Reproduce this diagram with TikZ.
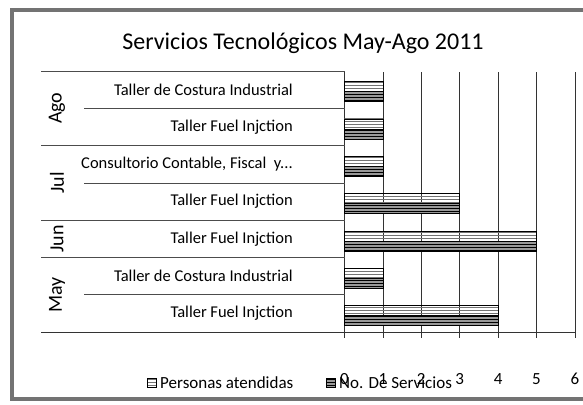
\documentclass[tikz,border=0pt]{standalone}
\usepackage{fontspec}
\setmainfont{Carlito}
\usetikzlibrary{patterns}

\tikzset{
  frameline/.style={black!55, line width=3.5pt},
  gridline/.style={black!80, line width=0.7pt},
  tabline/.style={black!70, line width=0.7pt},
  persbar/.style={draw=black, line width=0.6pt, pattern=horizontal lines, pattern color=black!55},
  servbar/.style={draw=black, line width=0.6pt, fill=black!40,
    postaction={pattern=horizontal lines, pattern color=black}},
  rowlabel/.style={anchor=east, inner sep=0pt, font=\fontsize{16.5}{18}\selectfont},
  grouplabel/.style={rotate=90, inner sep=0pt, font=\fontsize{20}{22}\selectfont},
  ticklabel/.style={inner sep=0pt, font=\fontsize{17}{19}\selectfont},
}

\begin{document}
\begin{tikzpicture}[x=1pt, y=-1pt]
\clip (0,0) rectangle (583,404);
\draw[frameline] (12,10) rectangle (620,399);

\node[font=\fontsize{24}{27}\selectfont] (title) at (303,43) {Servicios Tecnológicos May-Ago 2011};

% grid and axes
\coordinate (origin) at (344.5,332);
\foreach \v in {1,...,6}
  \draw[gridline] (344.5+38.4*\v,72) -- (344.5+38.4*\v,332);
\draw[gridline] (344.5,71) -- (344.5,337);
\draw[gridline] (41,332) -- (575.5,332);
\foreach \v in {0,...,6}
  \draw[gridline] (344.5+38.4*\v,332) -- (344.5+38.4*\v,338);

% table lines on the category side
\foreach \y in {71,145.6,220.2,257.5}
  \draw[tabline] (41,\y) -- (344.5,\y);
\foreach \y in {108.3,182.9,294.8}
  \draw[tabline] (84,\y) -- (344.5,\y);

% rows: label and values
\foreach \i/\val/\txt in {1/1/Taller de Costura Industrial,
                          2/1/Taller Fuel Injction,
                          3/1/{Consultorio Contable, Fiscal\ \ y...},
                          4/3/Taller Fuel Injction,
                          5/5/Taller Fuel Injction,
                          6/1/Taller de Costura Industrial,
                          7/4/Taller Fuel Injction}{
  \node[rowlabel] (row\i) at (293,52.35+37.3*\i) {\txt};
  \draw[persbar] (344.5,44.35+37.3*\i) rectangle (344.5+38.4*\val,54.35+37.3*\i);
  \draw[servbar] (344.5,54.35+37.3*\i) rectangle (344.5+38.4*\val,64.35+37.3*\i);
}

% months
\node[grouplabel] (ago) at (57,108.3) {Ago};
\node[grouplabel] (jul) at (57,182.9) {Jul};
\node[grouplabel] (jun) at (57,238.8) {Jun};
\node[grouplabel] (may) at (57,294.8) {May};

% value axis
\foreach \v in {0,...,6}
  \node[ticklabel] (tick\v) at (344.5+38.4*\v,379) {\v};

% legend
\draw[persbar] (147,378) rectangle (156,387);
\node[ticklabel, anchor=west] (legpers) at (160,383) {Personas atendidas};
\draw[servbar] (326,378) rectangle (335,387);
\node[ticklabel, anchor=west] (legserv) at (339,383) {No. De Servicios};
\end{tikzpicture}
\end{document}
